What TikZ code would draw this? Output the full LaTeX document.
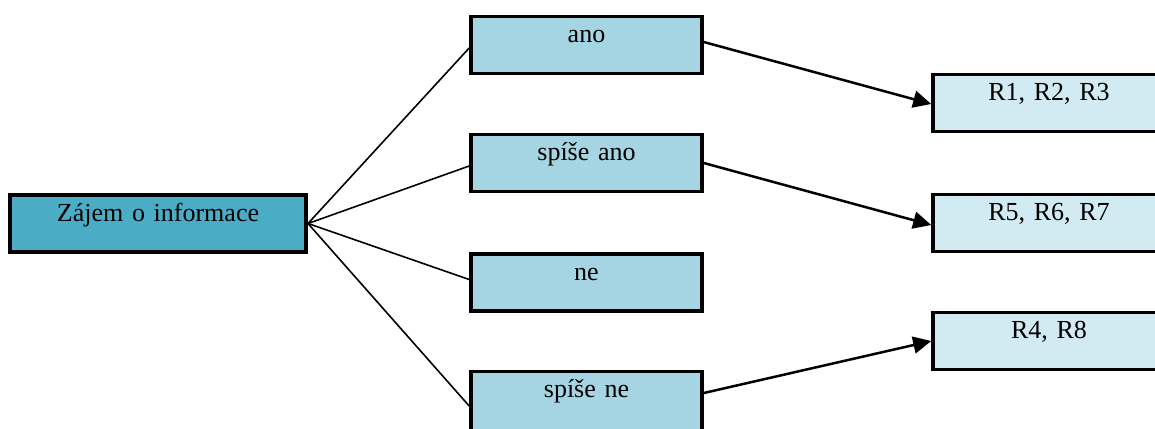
\documentclass[tikz,border=0pt]{standalone}
\usepackage{fontspec}
\setmainfont{Liberation Serif}
\usetikzlibrary{arrows.meta,calc}

\definecolor{rootfill}{HTML}{4BACC6}
\definecolor{answerfill}{HTML}{A5D5E2}
\definecolor{resultfill}{HTML}{D2EAF1}

\tikzset{
  box/.style={draw=black, line width=3.6pt, rectangle, inner sep=0pt, outer sep=0pt,
    anchor=north west, align=center, text height=26pt, text depth=31pt,
    font=\fontsize{26}{30}\selectfont},
  rootbox/.style={box, fill=rootfill, text width=296pt},
  answerbox/.style={box, fill=answerfill, text width=231pt},
  resultbox/.style={box, fill=resultfill, text width=232pt},
  branch/.style={draw=black, line width=1.6pt},
  link/.style={draw=black, line width=2.5pt, -{Triangle[length=18pt,width=17pt]}}
}

\begin{document}
\begin{tikzpicture}[x=1pt,y=-1pt]
  \useasboundingbox (0,0) rectangle (1155,428);
  \clip (0,0) rectangle (1155,428);

  % question
  \node[rootbox] (root) at (10,195) {Zájem o informace};

  % answers
  \node[answerbox] (ano)    at (471,16.5)  {ano};
  \node[answerbox] (sano)   at (471,134.5) {spíše ano};
  \node[answerbox] (ne)     at (471,254)   {ne};
  \node[answerbox, text depth=45pt] (sne) at (471,371.5) {spíše ne};

  % resulting groups
  \node[resultbox] (r123) at (933,74.5)  {R1, R2, R3};
  \node[resultbox] (r567) at (933,194.5) {R5, R6, R7};
  \node[resultbox] (r48)  at (933,312.5) {R4, R8};

  % branches from the question
  \coordinate (hub) at ($(root.east)+(2,0)$);
  \draw[branch] (hub) -- ($(ano.west)+(-1.8,3)$);
  \draw[branch] (hub) -- ($(sano.west)+(-1.8,3)$);
  \draw[branch] (hub) -- ($(ne.west)+(-1.8,-3)$);
  \draw[branch] (hub) -- ($(sne.west)+(-1.8,-1)$);

  % arrows to the groups
  \draw[link] ($(ano.east)+(1.8,-3)$) -- ($(r123.west)+(-1.8,1)$);
  \draw[link] ($(sano.east)+(1.8,0)$) -- ($(r567.west)+(-1.8,2)$);
  \draw[link] ($(sne.east)+(1.8,-14)$) -- ($(r48.west)+(-1.8,0)$);
\end{tikzpicture}
\end{document}
